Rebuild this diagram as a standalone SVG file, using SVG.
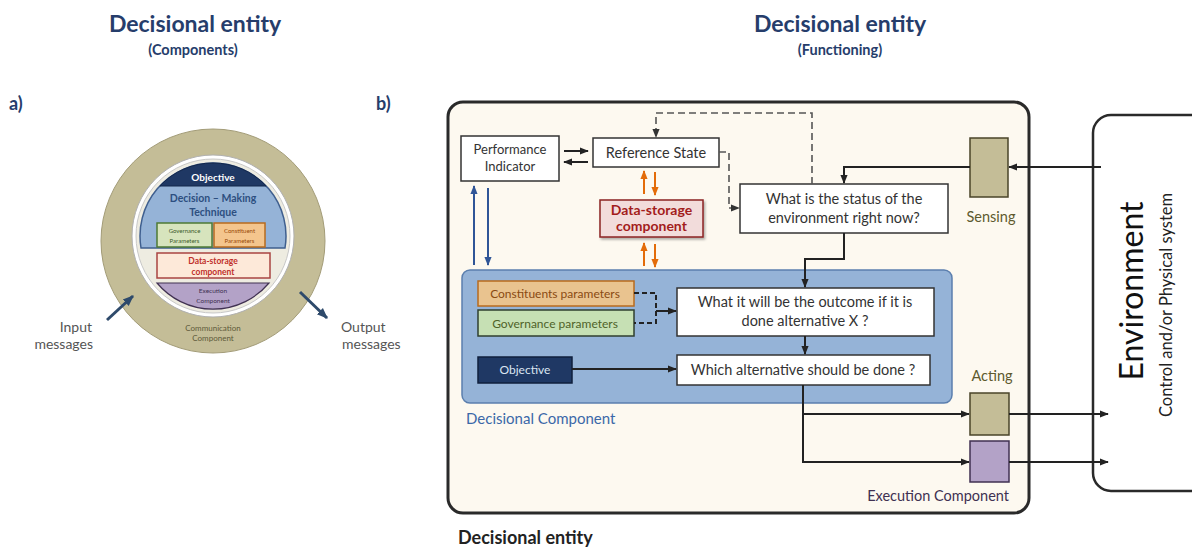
<svg xmlns="http://www.w3.org/2000/svg" width="1192" height="547" viewBox="0 0 1192 547">
<defs>
<style>
text{font-family:Lato,"Liberation Sans",sans-serif;}
.title{font-size:23px;font-weight:bold;fill:#263d6b;text-anchor:middle;}
.sub{font-size:14.5px;font-weight:bold;fill:#263d6b;text-anchor:middle;}
.lbl{font-size:18px;font-weight:bold;fill:#263d6b;}
.box{fill:#fff;stroke:#333;stroke-width:1.5;}
.t13{font-size:14.5px;fill:#333;text-anchor:middle;}
.ln{fill:none;stroke:#222;stroke-width:2;}
.dash{fill:none;stroke:#555;stroke-width:1.6;stroke-dasharray:7 4;}
.blue{fill:none;stroke:#2f5597;stroke-width:2;}
.orange{fill:none;stroke:#e36c0a;stroke-width:2;}
.navy{fill:none;stroke:#2e4a6b;stroke-width:3;}
.tan{fill:#c4bd97;stroke:#494429;stroke-width:1.5;}
</style>
<marker id="ak" viewBox="0 0 10 10" refX="9" refY="5" markerWidth="9" markerHeight="9" markerUnits="userSpaceOnUse" orient="auto"><path d="M0,1 L10,5 L0,9 z" fill="#222"/></marker>
<marker id="ag" viewBox="0 0 10 10" refX="9" refY="5" markerWidth="9" markerHeight="9" markerUnits="userSpaceOnUse" orient="auto"><path d="M0,1 L10,5 L0,9 z" fill="#333"/></marker>
<marker id="ab" viewBox="0 0 10 10" refX="9" refY="5" markerWidth="9" markerHeight="9" markerUnits="userSpaceOnUse" orient="auto"><path d="M0,1 L10,5 L0,9 z" fill="#2f5597"/></marker>
<marker id="ao" viewBox="0 0 10 10" refX="9" refY="5" markerWidth="9" markerHeight="9" markerUnits="userSpaceOnUse" orient="auto"><path d="M0,1 L10,5 L0,9 z" fill="#e36c0a"/></marker>
<marker id="an" viewBox="0 0 10 10" refX="9" refY="5" markerWidth="11" markerHeight="11" markerUnits="userSpaceOnUse" orient="auto"><path d="M0,1 L10,5 L0,9 z" fill="#2e4a6b"/></marker>
<filter id="sh" x="-10%" y="-10%" width="130%" height="140%"><feDropShadow dx="1.5" dy="2" stdDeviation="1.2" flood-color="#000" flood-opacity="0.3"/></filter>
</defs>
<rect width="1192" height="547" fill="#fff"/>

<!-- Titles -->
<g id="titles">
<text class="title" x="195" y="32">Decisional entity</text>
<text class="sub" x="193" y="55">(Components)</text>
<text class="title" x="840" y="32">Decisional entity</text>
<text class="sub" x="840" y="55">(Functioning)</text>
<text class="lbl" x="9" y="110">a)</text>
<text class="lbl" x="376" y="110">b)</text>
</g>

<!-- a) Components circle -->
<g id="components-circle">
<circle cx="213" cy="241" r="112" fill="#c4bd97" stroke="#a39c78" stroke-width="1"/>
<circle cx="213" cy="236" r="81" fill="#fff" stroke="#b0b0b0" stroke-width="1"/>
<circle cx="213" cy="236" r="77" fill="#eeece1" stroke="#c8c8c8" stroke-width="1"/>
<path d="M141,248 A73,73 0 1 1 285,248 Z" fill="#95b3d7" stroke="#3f5f8f" stroke-width="1.5"/>
<path d="M159.8,186 A73,73 0 0 1 266.2,186 Z" fill="#1f3864" stroke="#13264a" stroke-width="1"/>
<path d="M157,283 H269 A73,73 0 0 1 157,283 Z" fill="#b3a2c7" stroke="#403152" stroke-width="1.2"/>
<text x="213" y="181" font-size="10" font-weight="bold" fill="#fff" text-anchor="middle">Objective</text>
<text x="213" y="202" font-size="10.5" font-weight="bold" fill="#2d4f80" text-anchor="middle">Decision – Making</text>
<text x="213" y="216" font-size="10.5" font-weight="bold" fill="#2d4f80" text-anchor="middle">Technique</text>
<rect x="157" y="223" width="55" height="24" fill="#d7e4bd" stroke="#4e7a35" stroke-width="1.5"/>
<text x="184.5" y="233" font-size="6" fill="#3a5a2a" text-anchor="middle">Governance</text>
<text x="184.5" y="243" font-size="6" fill="#3a5a2a" text-anchor="middle">Parameters</text>
<rect x="214" y="223" width="51" height="24" fill="#f4c58d" stroke="#b86b1e" stroke-width="1.5"/>
<text x="239.5" y="233" font-size="6" fill="#984807" text-anchor="middle">Constituent</text>
<text x="239.5" y="243" font-size="6" fill="#984807" text-anchor="middle">Parameters</text>
<rect x="157" y="253" width="113" height="25" fill="#fde9d9" stroke="#a94442" stroke-width="1.5"/>
<text x="213" y="264" font-size="8.5" font-weight="bold" fill="#c0302b" text-anchor="middle">Data-storage</text>
<text x="213" y="275" font-size="8.5" font-weight="bold" fill="#c0302b" text-anchor="middle">component</text>
<text x="213" y="293" font-size="6.5" fill="#403152" text-anchor="middle">Execution</text>
<text x="213" y="303" font-size="6.5" fill="#403152" text-anchor="middle">Component</text>
<text x="213" y="331" font-size="8" fill="#5e5a3a" text-anchor="middle">Communication</text>
<text x="213" y="341" font-size="8" fill="#5e5a3a" text-anchor="middle">Component</text>
<path class="navy" d="M107,320 L133,296" marker-end="url(#an)"/>
<path class="navy" d="M300,292 L327,318" marker-end="url(#an)"/>
<text x="92" y="332" font-size="14" fill="#555" text-anchor="end">Input</text>
<text x="93" y="349" font-size="14" fill="#555" text-anchor="end">messages</text>
<text x="341" y="332" font-size="14" fill="#555">Output</text>
<text x="342" y="349" font-size="14" fill="#555">messages</text>
</g>

<!-- b) Functioning panel -->
<g id="panel">
<rect x="448" y="102" width="581" height="411" rx="15" fill="#fdf9f0" stroke="#2a2a2a" stroke-width="3"/>
</g>
<g id="decisional-component">
<rect x="462" y="270" width="490" height="133" rx="8" fill="#95b3d7" stroke="#5b7fae" stroke-width="1.5"/>
<text x="466" y="424" font-size="15" fill="#3b68a8">Decisional Component</text>
</g>
<g id="performance-indicator">
<rect class="box" x="461" y="136" width="98" height="45"/>
<text x="510" y="154" font-size="13" fill="#333" text-anchor="middle">Performance</text>
<text x="510" y="171" font-size="13" fill="#333" text-anchor="middle">Indicator</text>
</g>
<g id="reference-state">
<rect class="box" x="593" y="138" width="126" height="29"/>
<text class="t13" x="656" y="158">Reference State</text>
</g>
<g id="data-storage">
<rect x="600" y="200" width="103" height="37" fill="#f2dcdb" stroke="#8b2323" stroke-width="1.5" filter="url(#sh)"/>
<text x="651.5" y="215" font-size="14" font-weight="bold" fill="#a31c1c" text-anchor="middle">Data-storage</text>
<text x="651.5" y="231" font-size="14" font-weight="bold" fill="#a31c1c" text-anchor="middle">component</text>
</g>
<g id="status">
<rect class="box" x="740" y="184" width="208" height="49"/>
<text class="t13" x="844" y="204">What is the status of the</text>
<text class="t13" x="844" y="223">environment right now?</text>
</g>
<g id="sensing">
<rect class="tan" x="970" y="138" width="38" height="59"/>
<text x="991" y="222" font-size="14.5" fill="#5e5a2e" text-anchor="middle">Sensing</text>
</g>
<g id="constituents">
<rect x="478" y="281" width="156" height="25" fill="#e9c38f" stroke="#b86b1e" stroke-width="1.5"/>
<text x="555" y="298" font-size="12" fill="#8a4a12" text-anchor="middle">Constituents parameters</text>
</g>
<g id="governance">
<rect x="478" y="310" width="156" height="26" fill="#c6e0b4" stroke="#2f3f2f" stroke-width="1.5"/>
<text x="555" y="328" font-size="12" fill="#4f6228" text-anchor="middle">Governance parameters</text>
</g>
<g id="objective">
<rect x="478" y="357" width="94" height="26" fill="#1f3864" stroke="#0f1f3d" stroke-width="1.5"/>
<text x="525" y="374" font-size="12" fill="#dbe5f1" text-anchor="middle">Objective</text>
</g>
<g id="outcome">
<rect class="box" x="677" y="288" width="257" height="48"/>
<text class="t13" x="805" y="307">What it will be the outcome if it is</text>
<text class="t13" x="805" y="326">done alternative X ?</text>
</g>
<g id="which">
<rect class="box" x="677" y="355" width="253" height="30"/>
<text class="t13" x="803" y="375">Which alternative should be done ?</text>
</g>
<g id="acting">
<rect class="tan" x="970" y="393" width="39" height="42"/>
<text x="992" y="381" font-size="14.5" fill="#5e5a2e" text-anchor="middle">Acting</text>
</g>
<g id="execution">
<rect x="970" y="441" width="39" height="41" fill="#b3a2c7" stroke="#403152" stroke-width="1.5"/>
<text x="1009" y="501" font-size="14.5" fill="#403152" text-anchor="end">Execution Component</text>
</g>
<g id="environment">
<rect x="1093" y="115" width="130" height="376" rx="18" fill="#fff" stroke="#2a2a2a" stroke-width="2.5"/>
<text x="1143" y="291" font-size="32" fill="#111" text-anchor="middle" font-family="'Open Sans',sans-serif" transform="rotate(-90 1143 291)">Environment</text>
<text x="1172" y="305" font-size="16.5" fill="#222" text-anchor="middle" font-family="'Open Sans',sans-serif" transform="rotate(-90 1172 305)">Control and/or Physical system</text>
</g>
<g id="footer">
<text x="458" y="544" font-size="18" font-weight="bold" fill="#222">Decisional entity</text>
</g>

<!-- Connectors -->
<g id="connectors">
<path class="ln" d="M564,151 H588" marker-end="url(#ak)"/>
<path class="ln" d="M588,162 H564" marker-end="url(#ak)"/>
<path class="blue" d="M474,265 V186" marker-end="url(#ab)"/>
<path class="blue" d="M488,188 V265" marker-end="url(#ab)"/>
<path class="orange" d="M644,194 V171" marker-end="url(#ao)"/>
<path class="orange" d="M655,172 V195" marker-end="url(#ao)"/>
<path class="orange" d="M644,266 V243" marker-end="url(#ao)"/>
<path class="orange" d="M655,244 V267" marker-end="url(#ao)"/>
<path class="dash" d="M812,184 V113 H656 V137" marker-end="url(#ag)"/>
<path class="dash" d="M719,152 H729 V208 H739" marker-end="url(#ag)"/>
<path class="ln" d="M970,167 H844 V183" marker-end="url(#ak)"/>
<path class="ln" d="M1101,167 H1009" marker-end="url(#ak)"/>
<path class="ln" d="M844,233 V259 H805 V287" marker-end="url(#ak)"/>
<path class="ln" d="M634,293 H656 V323 H634" stroke-dasharray="5 3" stroke-width="1.6"/>
<path class="ln" d="M656,311 H676" marker-end="url(#ak)"/>
<path class="ln" d="M805,336 V354" marker-end="url(#ak)"/>
<path class="ln" d="M572,369 H676" marker-end="url(#ak)"/>
<path class="ln" d="M803,385 V462 H969" marker-end="url(#ak)"/>
<path class="ln" d="M803,414 H969" marker-end="url(#ak)"/>
<path class="ln" d="M1009,414 H1108" marker-end="url(#ak)"/>
<path class="ln" d="M1009,462 H1108" marker-end="url(#ak)"/>
</g>
</svg>
